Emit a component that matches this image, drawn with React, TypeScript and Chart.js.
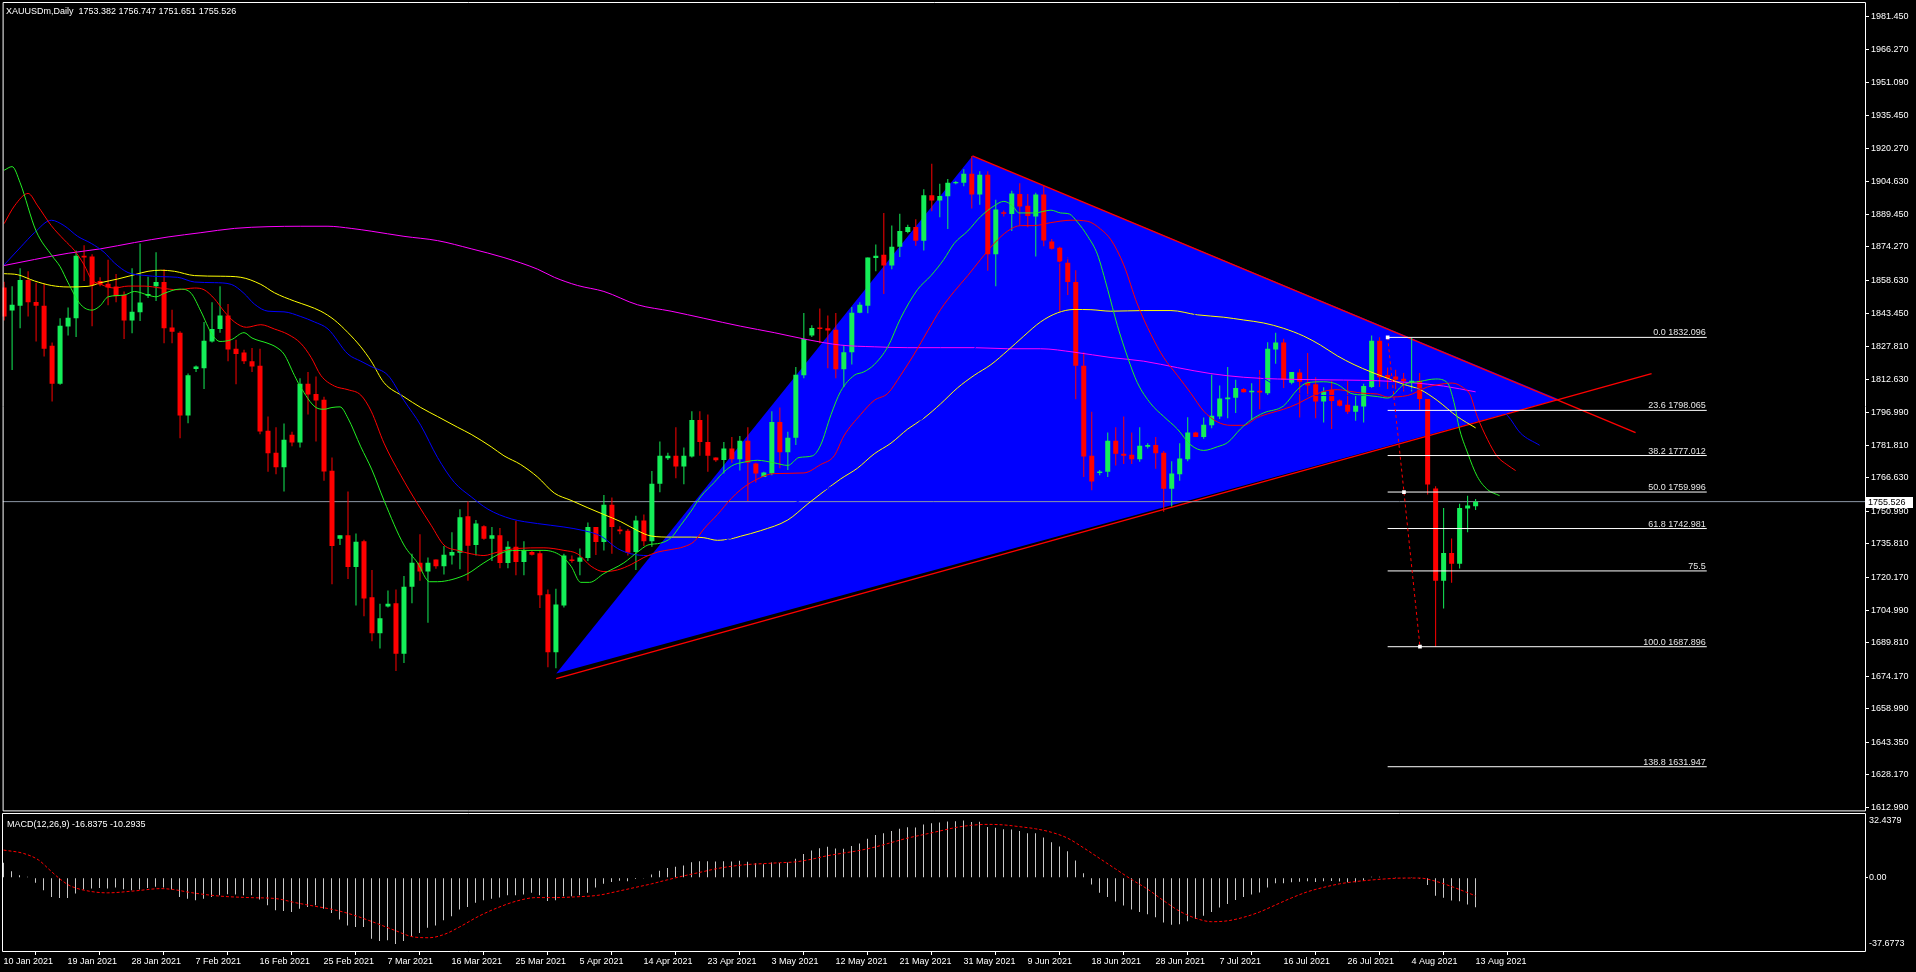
import React, { useEffect, useRef } from 'react';
import { Chart, registerables } from 'chart.js';

Chart.register(...registerables);

// ---------- texts ----------
const SYMBOL_TITLE = 'XAUUSDm,Daily  1753.382 1756.747 1751.651 1755.526';
const MACD_TITLE = 'MACD(12,26,9) -16.8375 -10.2935';

// ---------- axis tick labels ----------
const DATE_TICKS = ['10 Jan 2021', '19 Jan 2021', '28 Jan 2021', '7 Feb 2021', '16 Feb 2021', '25 Feb 2021', '7 Mar 2021', '16 Mar 2021', '25 Mar 2021', '5 Apr 2021', '14 Apr 2021', '23 Apr 2021', '3 May 2021', '12 May 2021', '21 May 2021', '31 May 2021', '9 Jun 2021', '18 Jun 2021', '28 Jun 2021', '7 Jul 2021', '16 Jul 2021', '26 Jul 2021', '4 Aug 2021', '13 Aug 2021'];
const BARS_PER_TICK = 8;
const PRICE_TICKS = [1981.45, 1966.27, 1951.09, 1935.45, 1920.27, 1904.63, 1889.45, 1874.27, 1858.63, 1843.45, 1827.81, 1812.63, 1796.99, 1781.81, 1766.63, 1750.99, 1735.81, 1720.17, 1704.99, 1689.81, 1674.17, 1658.99, 1643.35, 1628.17, 1612.99];
const MACD_TICKS = [32.4379, 0, -37.6773];

// ---------- candles (daily OHLC) ----------
const OPEN = [1855.4, 1844.6, 1846.8, 1858.9, 1848.6, 1846.8, 1828.2, 1810.5, 1837.2, 1841.0, 1870.1, 1869.8, 1858.4, 1857.1, 1855.8, 1851.8, 1840.0, 1843.8, 1851.5, 1855.9, 1857.9, 1836.7, 1834.3, 1795.7, 1817.4, 1817.7, 1830.2, 1836.0, 1842.3, 1826.8, 1825.0, 1821.0, 1818.9, 1788.6, 1778.3, 1771.6, 1786.7, 1783.1, 1810.5, 1805.7, 1803.0, 1769.9, 1738.2, 1739.8, 1725.0, 1737.0, 1710.9, 1694.2, 1706.6, 1708.2, 1684.6, 1715.9, 1727.0, 1722.9, 1728.5, 1725.4, 1730.4, 1731.7, 1748.7, 1735.3, 1744.0, 1738.2, 1739.8, 1726.9, 1734.5, 1727.4, 1732.0, 1731.5, 1712.4, 1685.3, 1707.1, 1728.5, 1727.5, 1729.2, 1743.7, 1736.7, 1754.1, 1742.5, 1742.0, 1732.0, 1746.7, 1737.0, 1763.9, 1775.8, 1776.9, 1771.9, 1776.6, 1793.6, 1783.3, 1776.1, 1774.9, 1780.3, 1775.3, 1783.9, 1773.3, 1767.0, 1768.6, 1792.7, 1778.6, 1785.3, 1814.4, 1833.0, 1836.7, 1836.3, 1835.7, 1817.2, 1825.2, 1843.6, 1846.8, 1869.1, 1870.6, 1865.6, 1874.3, 1881.2, 1883.6, 1877.1, 1898.4, 1895.9, 1897.9, 1903.9, 1904.2, 1908.4, 1898.7, 1907.9, 1870.9, 1890.4, 1889.6, 1898.9, 1893.4, 1888.4, 1898.7, 1876.8, 1873.9, 1866.9, 1857.9, 1818.9, 1776.9, 1768.9, 1769.4, 1783.9, 1777.8, 1777.4, 1775.3, 1781.1, 1781.9, 1778.3, 1761.5, 1768.3, 1775.3, 1787.7, 1785.7, 1791.1, 1795.2, 1803.2, 1803.9, 1808.0, 1806.5, 1807.2, 1806.0, 1826.5, 1829.7, 1811.0, 1815.7, 1811.0, 1810.2, 1802.2, 1807.7, 1802.7, 1800.7, 1797.4, 1799.9, 1809.0, 1830.5, 1814.5, 1813.9, 1812.8, 1810.8, 1811.9, 1803.4, 1761.6, 1718.7, 1731.6, 1726.6, 1752.3, 1753.382];
const HIGH = [1858.0, 1855.9, 1864.3, 1862.9, 1857.6, 1857.1, 1829.7, 1841.0, 1846.0, 1872.6, 1875.1, 1870.9, 1860.1, 1868.3, 1861.6, 1853.5, 1864.3, 1875.9, 1860.4, 1871.8, 1863.9, 1845.0, 1835.0, 1815.2, 1819.0, 1839.3, 1848.5, 1855.9, 1847.6, 1831.0, 1826.3, 1827.2, 1826.8, 1795.2, 1790.2, 1791.9, 1788.1, 1813.0, 1816.0, 1813.9, 1804.4, 1776.1, 1739.8, 1760.3, 1740.7, 1737.8, 1723.7, 1707.9, 1714.1, 1714.6, 1720.9, 1731.2, 1740.3, 1729.5, 1728.5, 1734.8, 1741.2, 1752.0, 1755.6, 1747.0, 1744.5, 1743.7, 1743.2, 1737.0, 1746.5, 1737.0, 1732.8, 1732.8, 1714.6, 1714.9, 1731.2, 1730.4, 1733.7, 1745.8, 1743.7, 1758.6, 1757.5, 1744.0, 1742.8, 1749.0, 1749.5, 1769.8, 1783.6, 1778.3, 1790.2, 1780.8, 1797.7, 1797.7, 1796.1, 1776.1, 1783.3, 1785.7, 1786.1, 1790.2, 1773.6, 1769.4, 1797.7, 1799.4, 1788.1, 1818.3, 1843.5, 1837.7, 1845.6, 1842.3, 1843.5, 1828.5, 1846.3, 1848.5, 1869.3, 1875.4, 1890.1, 1884.2, 1889.7, 1884.6, 1887.2, 1901.2, 1913.0, 1903.7, 1905.9, 1905.0, 1910.5, 1916.7, 1909.5, 1909.5, 1896.2, 1891.2, 1900.4, 1903.9, 1898.9, 1899.5, 1902.9, 1877.9, 1874.3, 1869.3, 1863.4, 1825.2, 1797.4, 1770.3, 1787.7, 1790.2, 1795.2, 1787.7, 1790.2, 1782.8, 1785.7, 1779.1, 1774.4, 1782.8, 1794.9, 1788.1, 1794.7, 1814.7, 1809.7, 1818.3, 1812.4, 1808.5, 1810.7, 1816.9, 1829.8, 1834.3, 1831.5, 1816.0, 1817.4, 1824.8, 1813.5, 1808.9, 1811.9, 1803.1, 1811.9, 1805.5, 1810.5, 1833.0, 1832.1, 1818.0, 1817.0, 1815.5, 1831.8, 1815.5, 1803.4, 1762.7, 1752.6, 1738.3, 1754.5, 1758.3, 1756.747];
const LOW = [1840.0, 1816.9, 1836.3, 1841.8, 1830.2, 1823.2, 1802.2, 1810.0, 1833.0, 1832.3, 1858.4, 1837.3, 1855.9, 1847.1, 1848.5, 1831.3, 1834.0, 1839.7, 1850.5, 1849.0, 1829.3, 1829.3, 1785.1, 1792.1, 1816.0, 1808.0, 1829.7, 1834.3, 1821.0, 1810.2, 1819.7, 1816.0, 1786.9, 1769.4, 1768.3, 1760.3, 1781.4, 1780.8, 1796.1, 1783.6, 1765.3, 1717.0, 1735.3, 1719.5, 1707.1, 1702.1, 1690.4, 1687.1, 1706.2, 1676.6, 1680.3, 1708.2, 1718.7, 1699.1, 1724.2, 1721.5, 1726.2, 1724.0, 1718.7, 1730.4, 1737.8, 1727.9, 1724.5, 1724.5, 1721.2, 1721.2, 1730.4, 1705.9, 1678.3, 1677.9, 1706.2, 1727.0, 1721.2, 1727.9, 1730.7, 1732.8, 1731.2, 1740.3, 1730.4, 1723.7, 1734.8, 1734.5, 1759.9, 1774.9, 1766.4, 1763.6, 1776.1, 1776.9, 1769.4, 1774.1, 1768.6, 1773.6, 1770.0, 1755.8, 1764.5, 1767.0, 1767.8, 1771.1, 1770.3, 1781.9, 1813.0, 1832.3, 1829.3, 1817.7, 1813.0, 1809.0, 1819.4, 1843.3, 1843.3, 1862.9, 1852.3, 1863.9, 1869.6, 1880.6, 1874.8, 1872.6, 1890.9, 1888.1, 1882.6, 1903.5, 1902.5, 1892.2, 1893.9, 1863.1, 1855.9, 1888.4, 1881.7, 1884.2, 1883.4, 1869.8, 1874.6, 1873.1, 1844.0, 1851.8, 1803.2, 1767.0, 1760.8, 1767.8, 1767.0, 1772.4, 1773.1, 1773.1, 1774.1, 1780.3, 1770.8, 1750.8, 1753.3, 1765.3, 1774.4, 1785.6, 1784.8, 1789.7, 1794.1, 1794.4, 1796.9, 1806.4, 1793.6, 1798.6, 1805.2, 1819.8, 1808.5, 1810.2, 1794.7, 1804.7, 1794.4, 1792.4, 1789.4, 1799.9, 1796.4, 1793.2, 1792.4, 1808.5, 1809.0, 1808.0, 1807.7, 1806.9, 1806.9, 1798.4, 1758.8, 1687.9, 1705.7, 1717.7, 1724.3, 1741.3, 1751.651];
const CLOSE = [1841.8, 1847.3, 1858.9, 1848.5, 1846.8, 1826.8, 1810.5, 1837.5, 1841.3, 1870.1, 1869.3, 1856.3, 1856.8, 1855.3, 1851.3, 1840.0, 1844.0, 1848.3, 1852.3, 1857.9, 1836.3, 1834.7, 1795.7, 1814.4, 1818.5, 1830.5, 1836.0, 1842.3, 1826.5, 1824.3, 1821.0, 1818.5, 1788.2, 1778.1, 1771.6, 1784.4, 1783.1, 1810.5, 1805.5, 1802.7, 1769.6, 1734.8, 1739.8, 1725.0, 1736.8, 1710.4, 1694.2, 1701.2, 1707.9, 1684.6, 1715.9, 1727.0, 1722.9, 1727.0, 1725.4, 1730.8, 1732.0, 1748.3, 1735.0, 1745.3, 1738.2, 1739.8, 1726.9, 1734.5, 1727.4, 1732.8, 1730.8, 1711.9, 1685.3, 1707.6, 1730.4, 1727.9, 1729.5, 1743.7, 1736.7, 1754.1, 1743.7, 1741.7, 1731.7, 1746.7, 1737.0, 1763.9, 1776.9, 1776.9, 1771.9, 1776.9, 1793.6, 1783.3, 1776.9, 1774.8, 1780.3, 1775.3, 1783.9, 1773.6, 1768.6, 1769.1, 1792.7, 1778.6, 1785.3, 1814.7, 1831.3, 1836.5, 1836.0, 1835.3, 1817.2, 1825.2, 1843.6, 1847.3, 1869.3, 1870.1, 1865.6, 1874.3, 1881.7, 1883.6, 1877.1, 1898.4, 1895.9, 1898.0, 1904.2, 1904.5, 1908.4, 1898.7, 1907.9, 1870.9, 1891.7, 1889.7, 1899.2, 1893.1, 1888.7, 1898.7, 1877.2, 1873.4, 1867.3, 1857.9, 1818.9, 1776.6, 1764.9, 1769.6, 1783.9, 1777.8, 1776.9, 1775.3, 1781.6, 1781.9, 1778.1, 1761.5, 1768.6, 1775.6, 1787.7, 1785.7, 1791.4, 1795.6, 1803.6, 1804.1, 1808.5, 1806.5, 1807.2, 1806.4, 1826.8, 1829.7, 1812.4, 1816.0, 1811.4, 1809.7, 1802.2, 1806.9, 1802.4, 1800.2, 1797.4, 1800.2, 1809.4, 1830.5, 1813.5, 1813.0, 1812.4, 1811.6, 1811.9, 1803.4, 1763.5, 1718.7, 1731.6, 1726.6, 1752.6, 1753.7, 1755.526];

// ---------- moving averages [bar, price] ----------
const LIPS = [[0, 1910], [1, 1911.7], [2, 1904.2], [4, 1881.7], [6, 1870.1], [7, 1865.1], [8, 1857.6], [9.6, 1847.3], [11, 1844.8], [12, 1846.8], [13, 1851.0], [15, 1851.8], [16.3, 1853.5], [18, 1851.8], [19, 1851.0], [20, 1852.6], [22, 1854.6], [23.4, 1852.6], [24.6, 1844.3], [26, 1833.5], [27, 1830.2], [28.4, 1831.0], [30, 1834.3], [31, 1831.8], [33, 1829.3], [34, 1827.6], [35, 1824.3], [36.3, 1814.4], [37, 1809.4], [39, 1799.4], [40, 1798.6], [41, 1799.4], [42, 1799.7], [43, 1794.4], [44.6, 1781.1], [46, 1770.3], [47.5, 1756.1], [50, 1735.3], [51.7, 1727.0], [53.2, 1718.2], [54.2, 1718.2], [56, 1719.2], [58, 1722.0], [60, 1727.0], [62.5, 1732.0], [64.6, 1732.8], [67.5, 1732.8], [69.6, 1730.4], [70.9, 1725.4], [72.1, 1717.9], [73.2, 1717.9], [75, 1722.0], [77.5, 1727.0], [79.2, 1732.0], [80.5, 1735.3], [82.1, 1736.2], [83.4, 1738.7], [84.6, 1744.5], [85.9, 1751.1], [87.1, 1757.8], [88.8, 1764.5], [90, 1769.4], [91.3, 1772.8], [92.1, 1773.6], [94.2, 1774.8], [96.3, 1773.6], [98, 1772.4], [99.4, 1776.1], [101.1, 1776.9], [102.1, 1781.9], [103.4, 1796.1], [104.6, 1806.9], [106.3, 1814.4], [107.5, 1816.0], [108.8, 1819.4], [110.5, 1827.7], [112.1, 1841.0], [114.2, 1854.3], [115.9, 1860.9], [117.5, 1868.4], [118.8, 1875.9], [120.5, 1881.7], [122.1, 1888.4], [123.8, 1893.4], [125, 1895.5], [126.1, 1893.4], [126.9, 1890.1], [128.8, 1890.1], [130.9, 1891.4], [132.1, 1890.1], [133.2, 1889.6], [134.2, 1885.9], [135.5, 1879.2], [136.7, 1870.9], [138, 1854.3], [139.2, 1837.7], [140.5, 1822.7], [141.7, 1811.0], [143.4, 1801.1], [145, 1795.2], [146.7, 1789.4], [148.4, 1781.9], [150, 1779.4], [151.7, 1781.1], [153, 1783.1], [154.6, 1789.4], [155.9, 1793.6], [157.5, 1796.9], [160, 1800.2], [161.7, 1807.7], [163, 1811.0], [165, 1811.4], [166.7, 1810.2], [168.4, 1806.0], [170, 1805.2], [171.7, 1804.5], [173, 1803.8], [175, 1810.0], [177.1, 1811.6], [179, 1812.7], [180.5, 1810.8], [181.1, 1804.6], [181.5, 1798.4], [181.9, 1790.6], [183, 1778.2], [184.2, 1767.3], [185.5, 1761.1], [187, 1758.3]];
const TEETH = [[0, 1885.1], [1.3, 1893.4], [3, 1899.2], [4.2, 1893.4], [5.9, 1884.2], [7.5, 1877.6], [8.8, 1872.6], [10, 1865.9], [10.9, 1859.3], [12.1, 1856.8], [13.8, 1855.1], [15.5, 1856.0], [17.5, 1856.0], [19.6, 1855.1], [21.7, 1854.3], [23.8, 1855.1], [25, 1854.3], [26.3, 1850.1], [27.5, 1844.3], [28.8, 1839.3], [30.3, 1836.8], [32.1, 1838.0], [33.8, 1836.0], [35.5, 1833.5], [37.1, 1829.3], [38.4, 1822.7], [39.6, 1814.4], [41.3, 1809.4], [43, 1807.7], [44.6, 1805.2], [45.9, 1797.7], [47.5, 1782.8], [49.6, 1767.8], [51.7, 1754.5], [53.4, 1744.5], [55, 1735.3], [56.7, 1732.8], [58.4, 1731.2], [60, 1730.4], [61.7, 1732.0], [64.2, 1733.7], [67.5, 1734.0], [70, 1732.8], [71.7, 1731.2], [73.4, 1725.4], [75, 1722.9], [76.7, 1723.7], [78.4, 1726.2], [80, 1729.5], [81.7, 1732.0], [83.4, 1733.2], [85, 1734.5], [86.3, 1737.0], [87.5, 1742.8], [89.2, 1749.5], [90.9, 1756.9], [92.1, 1761.1], [93.8, 1765.3], [96.3, 1768.6], [100, 1768.9], [102.1, 1772.8], [103.8, 1776.9], [105, 1786.1], [107.1, 1796.1], [108.8, 1802.7], [110.5, 1806.0], [112.1, 1814.4], [113.8, 1824.3], [115.5, 1835.2], [117.1, 1845.1], [118.8, 1853.5], [120.5, 1860.9], [122.1, 1868.4], [123.8, 1875.9], [125.5, 1881.7], [127.1, 1884.2], [128.8, 1884.2], [130.9, 1885.6], [133.4, 1886.7], [135.5, 1886.2], [137.1, 1882.6], [138.4, 1877.6], [140, 1865.9], [141.7, 1847.6], [143.4, 1833.5], [145, 1822.7], [146.7, 1814.4], [148.4, 1806.0], [150, 1797.7], [151.7, 1792.7], [153.4, 1791.1], [155, 1791.1], [156.7, 1794.7], [158.4, 1796.9], [160, 1798.6], [161.7, 1801.1], [163.4, 1804.4], [165, 1806.9], [166.7, 1807.7], [168.4, 1806.9], [170, 1806.0], [171.7, 1805.7], [173, 1804.3], [175.5, 1805.0], [178, 1809.0], [179.2, 1810.0], [181.1, 1810.8], [182.5, 1808.5], [183.3, 1805.4], [184.2, 1795.3], [185.5, 1784.4], [186.7, 1776.6], [187.9, 1772.8], [189, 1770.0]];
const JAW = [[0, 1865.9], [2.1, 1874.3], [3.8, 1880.9], [5.9, 1886.7], [7.5, 1884.2], [9.2, 1879.2], [10.9, 1875.9], [12.5, 1871.8], [13.8, 1866.8], [15.5, 1862.3], [17.5, 1861.0], [19.6, 1860.4], [21.7, 1860.1], [23.8, 1857.9], [26.3, 1857.6], [28.4, 1856.8], [30, 1852.6], [31.3, 1847.6], [33, 1844.3], [35, 1844.0], [37.1, 1841.8], [38.8, 1839.3], [40.5, 1836.0], [43, 1824.3], [44.6, 1821.0], [45.9, 1818.5], [48, 1814.4], [50, 1802.7], [52.1, 1791.1], [54.2, 1776.1], [56.3, 1764.5], [58.4, 1757.8], [60.5, 1752.0], [63.4, 1747.5], [66.7, 1745.3], [70, 1743.7], [72.5, 1742.0], [74.6, 1739.5], [76.7, 1733.7], [78.4, 1731.2], [80.5, 1730.4], [83, 1731], [86, 1733], [90, 1737], [95, 1747], [100, 1757], [105, 1765], [110, 1775], [115, 1795], [120, 1820], [125, 1845], [130, 1862], [135, 1872], [140, 1875], [145, 1860], [150, 1838], [155, 1820], [160, 1808], [165, 1805], [170, 1805], [175, 1808], [180, 1808], [185, 1803], [188, 1795.6], [189.6, 1787.5], [192, 1781.8]];
const MA_YELLOW = [[0, 1861.8], [1.7, 1861.3], [3.8, 1858.4], [5.9, 1856.3], [8, 1855.6], [10.5, 1855.9], [12.1, 1857.6], [14.2, 1859.3], [16.3, 1861.3], [18, 1862.9], [19.6, 1863.4], [21.3, 1862.9], [23.8, 1860.9], [27.1, 1860.6], [29.6, 1860.1], [32.1, 1856.8], [33.8, 1852.9], [36.3, 1849.0], [38, 1846.8], [39.6, 1844.3], [41.3, 1840.2], [43, 1834.3], [44.6, 1827.7], [45.9, 1821.0], [47.5, 1811.0], [50, 1804.4], [52.1, 1799.4], [54.2, 1795.2], [56.7, 1790.2], [58.4, 1786.9], [60.9, 1781.1], [62.5, 1776.9], [64.6, 1772.8], [66.7, 1767.0], [68.8, 1759.5], [70.9, 1756.1], [72.9, 1752.8], [75, 1749.5], [77.1, 1746.2], [79.2, 1742.0], [80.9, 1739.5], [83.4, 1739.0], [85.9, 1739.0], [87.5, 1738.7], [89.2, 1737.5], [90.9, 1738.2], [92.1, 1739.4], [94.6, 1742.0], [98, 1747.0], [100.5, 1754.5], [102.5, 1760.3], [104.6, 1766.1], [106.7, 1771.1], [108.8, 1777.8], [110.9, 1782.8], [113, 1789.4], [115, 1794.4], [117.1, 1801.1], [119.2, 1808.5], [121.3, 1814.4], [123.4, 1819.4], [125.5, 1826.0], [127.5, 1832.7], [129.6, 1839.3], [131.7, 1843.5], [133.8, 1845.1], [135.9, 1845.0], [138.4, 1844.3], [142.5, 1844.6], [145.9, 1844.6], [149.2, 1842.6], [152.5, 1841.5], [155, 1840.2], [157.5, 1838.8], [160, 1836.3], [162.5, 1832.7], [164.6, 1828.5], [166.7, 1823.5], [168.8, 1819.4], [170.9, 1816.0], [173, 1813.0], [175, 1810.2], [177.1, 1807.7], [179.2, 1802.7], [181.7, 1795.2], [184, 1789.9]];
const MA_MAGENTA = [[0, 1865.6], [3.8, 1868.4], [8, 1871.3], [12.1, 1873.4], [16.3, 1876.3], [20.5, 1878.9], [24.6, 1880.9], [28.8, 1882.9], [33, 1883.7], [37.1, 1883.9], [40.5, 1883.9], [43.4, 1882.9], [45.9, 1881.6], [50, 1879.2], [54.2, 1877.2], [58.4, 1873.4], [62.5, 1869.3], [66.7, 1863.9], [68.8, 1860.1], [71.7, 1856.3], [75, 1853.5], [79.2, 1847.3], [83.4, 1844.3], [87.5, 1841.0], [92.1, 1837.3], [96.3, 1834.3], [100.5, 1831.0], [104.6, 1828.5], [108.8, 1827.7], [113, 1827.3], [117.1, 1827.3], [121.3, 1827.3], [125.5, 1826.8], [129.6, 1826.8], [133.8, 1825.2], [138.4, 1822.7], [142.5, 1821.0], [146.7, 1818.0], [150.9, 1815.2], [155, 1813.5], [159.2, 1812.7], [163.4, 1812.4], [167.5, 1812.2], [171.7, 1811.9], [175.9, 1811.0], [180, 1809.4], [184, 1806.7]];

// ---------- MACD ----------
const MACD_MAIN = [8.5, 3.7, 1.4, 0.5, -2.9, -7.1, -10.9, -11.5, -11.5, -9.0, -6.7, -6.2, -5.8, -6.2, -5.6, -6.6, -7.1, -6.7, -5.8, -5.2, -5.6, -6.7, -10.9, -11.9, -12.8, -11.9, -10.9, -10.0, -9.4, -9.6, -10.0, -10.0, -12.4, -15.7, -18.5, -18.9, -19.5, -17.6, -16.6, -15.7, -17.6, -20.0, -23.8, -27.1, -28.0, -28.0, -34.7, -36.0, -35.6, -37.68, -36.0, -33.7, -31.4, -28.4, -27.1, -24.2, -21.9, -18.1, -16.6, -14.3, -12.8, -11.9, -11.3, -10.0, -10.0, -9.6, -8.6, -10.0, -13.2, -12.8, -10.5, -10.5, -10.0, -8.6, -5.6, -3.5, -2.5, -1.8, -2.0, -0.8, -0.5, 1.8, 4.0, 5.5, 6.2, 7.0, 8.8, 9.4, 9.4, 9.2, 9.4, 9.2, 9.6, 9.0, 8.2, 7.6, 8.6, 8.4, 8.6, 10.8, 13.5, 15.5, 16.8, 17.6, 16.6, 16.5, 18.0, 19.4, 22.2, 24.2, 25.2, 26.5, 27.8, 28.6, 28.5, 30.3, 31.0, 31.4, 32.0, 32.1, 32.4379, 31.6, 31.8, 28.8, 28.4, 27.5, 27.4, 26.6, 25.3, 25.2, 22.8, 20.2, 17.8, 15.0, 9.8, 2.5, -3.8, -8.5, -11.0, -13.5, -15.8, -18.0, -19.5, -20.8, -22.5, -25.5, -26.8, -26.5, -24.8, -23.4, -21.6, -19.5, -17.0, -15.0, -12.6, -11.0, -9.6, -8.4, -5.5, -3.2, -3.2, -2.6, -2.3, -2.0, -2.4, -2.0, -1.9, -2.1, -2.6, -2.6, -1.8, 0.6, 0.5, 0.3, 0.1, -0.1, 0.1, -0.6, -4.2, -10.2, -11.4, -13.0, -13.4, -15.2, -16.8375];
const MACD_SIGNAL = [[0, 15.7], [2.5, 13.8], [4.4, 10.0], [5.8, 4.3], [7, -0.5], [8.2, -4.3], [9.7, -6.7], [13, -8.6], [16.4, -7.5], [19.7, -6.2], [21.2, -6.7], [23.5, -8.5], [26.9, -10.4], [30.7, -11.3], [34.1, -11.9], [36.5, -14.2], [38.9, -16.2], [41.2, -18.1], [43.6, -21.0], [46.5, -25.7], [48.9, -29.9], [51.3, -33.7], [53.2, -34.1], [55.1, -32.2], [57, -28.0], [59.4, -21.9], [61.8, -17.0], [64.2, -13.2], [66.6, -11.3], [69, -11.3], [71.4, -10.9], [74.3, -10.0], [77, -7.5], [79, -5.5], [81, -3.5], [83, -1.2], [85, 1.0], [87, 3.0], [89, 5.0], [91, 6.5], [93, 7.5], [95, 8.0], [97, 8.5], [99, 9.0], [101, 10.5], [103, 12.5], [105, 14.0], [107, 15.5], [109, 17.5], [111, 20.0], [113, 22.5], [115, 24.5], [117, 26.5], [119, 28.5], [121, 29.8], [123, 30.3], [125, 30.0], [127, 29.0], [129, 27.8], [131, 25.8], [133, 22.5], [135, 17.0], [137, 11.0], [139, 5.0], [141, -1.0], [143, -6.5], [145, -13.0], [147, -19.0], [149, -23.0], [151, -25.0], [153, -24.5], [155, -22.5], [157, -19.5], [159, -15.5], [161, -11.5], [163, -8.0], [165, -5.5], [167, -3.5], [169, -2.2], [171, -1.3], [173, -0.6], [175, -0.2], [177, -0.2], [179, -2.0], [181, -5.0], [183, -8.5], [184, -10.2935]];

// ---------- drawn objects [bar, price] ----------
const TRIANGLE = [[69.04, 1675.4], [121.08, 1916.7], [194.4, 1803.2], [69.04, 1675.4]];
const TREND_UPPER = [[121.08, 1916.7], [204, 1787.7]];
const TREND_LOWER = [[69.04, 1673.0], [206, 1815.2]];
const FIB_ANCHORS = [[173, 1832.096], [175.04, 1759.996], [177.04, 1687.896]];
const FIB_LEVELS = [1832.096, 1798.065, 1777.012, 1759.996, 1742.981, 1723.225, 1687.896, 1631.947];
const FIB_TEXT = ['0.0 1832.096', '23.6 1798.065', '38.2 1777.012', '50.0 1759.996', '61.8 1742.981', '75.5', '100.0 1687.896', '138.8 1631.947'];
const FIB_RANGE = [173, 212.9];

// ---------- layout / style constants ----------
const W = 1916;
const MAIN_H = 813;
const MACD_H = 159;
const AXIS_W = 51;
const X_MIN = -0.1875;
const X_MAX = X_MIN + 1863 / 8;
const Y_MAX = 1987.97;
const Y_MIN = 1611.59;
const MACD_MAX = 36.2;
const MACD_MIN = -41.65;
const FONT_FAMILY = '"Liberation Sans", Arial, sans-serif';
const FONT = { family: FONT_FAMILY, size: 9 };
const UP = '#14ee58';
const DOWN = '#ff0000';

const pts = (arr) => arr.map(([x, y]) => ({ x, y }));

const lineDs = (data, color, order, extra = {}) => ({
  type: 'line',
  data: pts(data),
  borderColor: color,
  borderWidth: 1,
  pointRadius: 0,
  pointHoverRadius: 0,
  fill: false,
  order,
  ...extra,
});

const framePlugin = {
  id: 'mt4frame',
  beforeDraw(chart) {
    const { ctx } = chart;
    ctx.save();
    ctx.fillStyle = '#000';
    ctx.fillRect(0, 0, chart.width, chart.height);
    ctx.restore();
  },
  afterDraw(chart) {
    const { ctx, chartArea: a } = chart;
    ctx.save();
    ctx.strokeStyle = '#ffffff';
    ctx.lineWidth = 1;
    ctx.beginPath();
    ctx.moveTo(a.left + 0.5, a.top - 0.5);
    ctx.lineTo(a.right + 0.5, a.top - 0.5);
    ctx.lineTo(a.right + 0.5, a.bottom + 0.5);
    ctx.lineTo(a.left + 0.5, a.bottom + 0.5);
    ctx.closePath();
    ctx.stroke();
    ctx.restore();
  },
};

const mainOverlay = {
  id: 'mainOverlay',
  afterDraw(chart) {
    const { ctx } = chart;
    const xs = chart.scales.x;
    const ys = chart.scales.y;
    ctx.save();
    ctx.font = `9px ${FONT_FAMILY}`;
    ctx.textBaseline = 'alphabetic';
    // header
    ctx.fillStyle = '#ffffff';
    ctx.textAlign = 'left';
    ctx.fillText(SYMBOL_TITLE, 6, 14);
    // fibonacci labels
    ctx.fillStyle = '#e6e6e6';
    ctx.textAlign = 'right';
    const xr = xs.getPixelForValue(FIB_RANGE[1]) - 1;
    FIB_LEVELS.forEach((lv, k) => {
      ctx.fillText(FIB_TEXT[k], xr, ys.getPixelForValue(lv) - 2);
    });
    // current price tag
    const last = CLOSE[CLOSE.length - 1];
    const py = Math.round(ys.getPixelForValue(last));
    const a = chart.chartArea;
    ctx.fillStyle = '#ffffff';
    ctx.fillRect(a.right + 1, py - 5, 47, 11);
    ctx.fillStyle = '#000000';
    ctx.textAlign = 'left';
    ctx.textBaseline = 'middle';
    ctx.fillText(last.toFixed(3), a.right + 3, py + 0.5);
    ctx.restore();
  },
};

const macdOverlay = {
  id: 'macdOverlay',
  afterDraw(chart) {
    const { ctx } = chart;
    ctx.save();
    ctx.font = `9px ${FONT_FAMILY}`;
    ctx.fillStyle = '#ffffff';
    ctx.textAlign = 'left';
    ctx.textBaseline = 'alphabetic';
    ctx.fillText(MACD_TITLE, 7, 13.5);
    ctx.restore();
  },
};

export default function App() {
  const mainRef = useRef(null);
  const macdRef = useRef(null);

  useEffect(() => {
    document.body.style.margin = '0';
    document.body.style.background = '#000';

    const idx = OPEN.map((_, i) => i);
    const colors = idx.map((i) => (CLOSE[i] >= OPEN[i] ? UP : DOWN));
    const last = CLOSE[CLOSE.length - 1];

    const fibLineSets = FIB_LEVELS.map((lv) =>
      lineDs([[FIB_RANGE[0], lv], [FIB_RANGE[1], lv]], '#ffffff', 2)
    );

    const main = new Chart(mainRef.current, {
      type: 'line',
      data: {
        datasets: [
          lineDs(TRIANGLE, '#0000ff', 20, { fill: 'shape', backgroundColor: '#0000ff', borderWidth: 0 }),
          lineDs(TREND_UPPER, '#ff0000', 18, { borderWidth: 1.3 }),
          lineDs(TREND_LOWER, '#ff0000', 18, { borderWidth: 1.3 }),
          lineDs([[X_MIN, last], [X_MAX, last]], '#8d97a6', 16),
          {
            type: 'bar',
            data: idx.map((i) => ({ x: i, y: [LOW[i], HIGH[i]] })),
            backgroundColor: colors,
            barThickness: 1,
            grouped: false,
            borderWidth: 0,
            inflateAmount: 0,
            order: 12,
          },
          {
            type: 'bar',
            data: idx.map((i) => ({ x: i, y: [OPEN[i], CLOSE[i]] })),
            backgroundColor: colors,
            barThickness: 5,
            grouped: false,
            borderWidth: 0,
            inflateAmount: 0,
            minBarLength: 1,
            order: 11,
          },
          lineDs(MA_MAGENTA, '#ff00ff', 8, { cubicInterpolationMode: 'monotone' }),
          lineDs(MA_YELLOW, '#ffff00', 7, { cubicInterpolationMode: 'monotone' }),
          lineDs(JAW, '#0000ff', 6, { cubicInterpolationMode: 'monotone' }),
          lineDs(TEETH, '#ff0000', 5, { cubicInterpolationMode: 'monotone' }),
          lineDs(LIPS, '#22ee22', 4, { cubicInterpolationMode: 'monotone' }),
          ...fibLineSets,
          lineDs(FIB_ANCHORS, '#ff0000', 1, {
            borderDash: [3, 3],
            pointRadius: 2.6,
            pointStyle: 'rect',
            pointBackgroundColor: '#ffffff',
            pointBorderWidth: 0,
          }),
        ],
      },
      options: {
        animation: false,
        responsive: false,
        maintainAspectRatio: false,
        events: [],
        layout: { padding: { left: 2, top: 3, right: 0, bottom: 2 } },
        plugins: { legend: { display: false }, tooltip: { enabled: false } },
        scales: {
          x: { type: 'linear', min: X_MIN, max: X_MAX, display: false, offset: false },
          y: {
            type: 'linear',
            position: 'right',
            min: Y_MIN,
            max: Y_MAX,
            afterBuildTicks: (s) => {
              s.ticks = PRICE_TICKS.map((v) => ({ value: v }));
            },
            afterFit: (s) => {
              s.width = AXIS_W;
              s.paddingTop = 0;
              s.paddingBottom = 0;
            },
            ticks: {
              color: '#ffffff',
              font: FONT,
              padding: 2,
              autoSkip: false,
              callback: (v) => Number(v).toFixed(3),
            },
            grid: { drawOnChartArea: false, drawTicks: true, tickLength: 4, color: '#ffffff', tickColor: '#ffffff' },
            border: { display: false },
          },
        },
      },
      plugins: [framePlugin, mainOverlay],
    });

    const macd = new Chart(macdRef.current, {
      type: 'line',
      data: {
        datasets: [
          {
            type: 'bar',
            data: MACD_MAIN.map((v, i) => ({ x: i, y: v })),
            backgroundColor: '#c8c8c8',
            barThickness: 1,
            grouped: false,
            borderWidth: 0,
            inflateAmount: 0,
            order: 2,
          },
          lineDs(MACD_SIGNAL, '#ff0000', 1, { borderDash: [3, 2], cubicInterpolationMode: 'monotone' }),
        ],
      },
      options: {
        animation: false,
        responsive: false,
        maintainAspectRatio: false,
        events: [],
        layout: { padding: { left: 2, top: 1, right: 0, bottom: 0 } },
        plugins: { legend: { display: false }, tooltip: { enabled: false } },
        scales: {
          x: {
            type: 'linear',
            position: 'bottom',
            min: X_MIN,
            max: X_MAX,
            offset: false,
            afterBuildTicks: (s) => {
              s.ticks = DATE_TICKS.map((_, k) => ({ value: k * BARS_PER_TICK }));
            },
            afterFit: (s) => {
              s.height = 21;
              s.paddingLeft = 0;
              s.paddingRight = 0;
            },
            ticks: {
              color: '#ffffff',
              font: FONT,
              align: 'start',
              padding: 1,
              maxRotation: 0,
              minRotation: 0,
              autoSkip: false,
              callback: (v, i) => DATE_TICKS[i],
            },
            grid: { drawOnChartArea: false, drawTicks: true, tickLength: 4, color: '#ffffff', tickColor: '#ffffff' },
            border: { display: false },
          },
          y: {
            type: 'linear',
            position: 'right',
            min: MACD_MIN,
            max: MACD_MAX,
            afterBuildTicks: (s) => {
              s.ticks = MACD_TICKS.map((v) => ({ value: v }));
            },
            afterFit: (s) => {
              s.width = AXIS_W;
              s.paddingTop = 0;
              s.paddingBottom = 0;
            },
            ticks: {
              color: '#ffffff',
              font: FONT,
              padding: 1,
              autoSkip: false,
              callback: (v) => (Number(v) === 0 ? '0.00' : Number(v).toFixed(4)),
            },
            grid: {
              drawOnChartArea: false,
              drawTicks: true,
              tickLength: 3,
              color: '#ffffff',
              tickColor: (c) => (c.tick && c.tick.value === 0 ? '#ffffff' : 'rgba(0,0,0,0)'),
            },
            border: { display: false },
          },
        },
      },
      plugins: [framePlugin, macdOverlay],
    });

    return () => {
      main.destroy();
      macd.destroy();
    };
  }, []);

  return (
    <div style={{ position: 'fixed', left: 0, top: 0, width: W, height: MAIN_H + MACD_H, background: '#000', overflow: 'hidden' }}>
      <canvas ref={mainRef} width={W} height={MAIN_H} style={{ display: 'block', width: W, height: MAIN_H }} />
      <canvas ref={macdRef} width={W} height={MACD_H} style={{ display: 'block', width: W, height: MACD_H }} />
    </div>
  );
}
